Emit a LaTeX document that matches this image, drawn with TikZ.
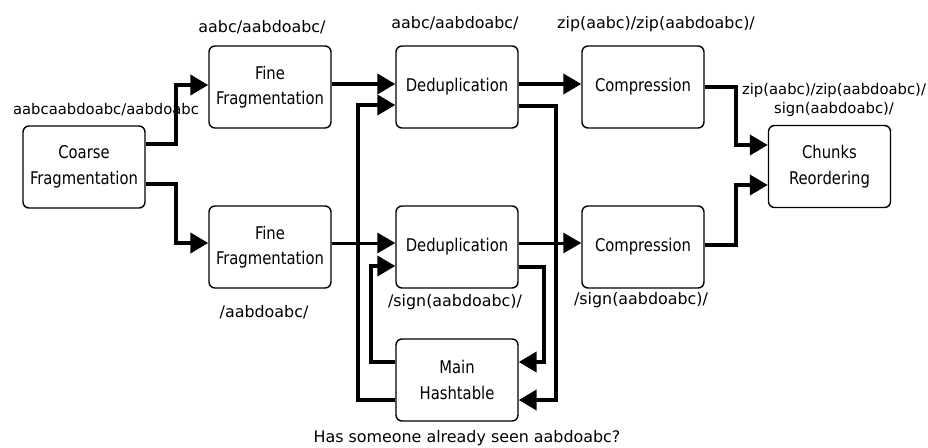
\documentclass[tikz,border=0pt]{standalone}
\usepackage{fontspec}
\setmainfont{DejaVu Sans}
\newfontfamily\condfont{DejaVu Sans Condensed}[FakeStretch=0.94]
\usetikzlibrary{arrows.meta}
\begin{document}
\begin{tikzpicture}[x=1pt,y=-1pt,
  stage/.style={draw, line width=1.4pt, rounded corners=6pt, minimum width=122pt,
    minimum height=82pt, inner sep=0pt, align=center,
    font=\condfont\fontsize{17.5}{25.5}\selectfont},
  flow/.style={line width=4pt, -{Triangle[length=18pt,width=20pt]}},
  thinflow/.style={line width=3pt, -{Triangle[length=18pt,width=20pt]}},
  tag/.style={inner sep=0pt, align=center, font=\fontsize{15.9}{19}\selectfont},
  smalltag/.style={inner sep=0pt, align=center, font=\fontsize{14.8}{19}\selectfont}]
\useasboundingbox (0,0) rectangle (928,447);

% processing stages
\node[stage] (coarse) at (84,167) {Coarse\\Fragmentation};
\node[stage] (fine1)  at (270,87)  {Fine\\Fragmentation};
\node[stage] (fine2)  at (270,247) {Fine\\Fragmentation};
\node[stage] (dd1)    at (457,87)  {Deduplication};
\node[stage] (dd2)    at (457,247) {Deduplication};
\node[stage] (ht)     at (457,380) {Main\\Hashtable};
\node[stage] (cmp1)   at (643,87)  {Compression};
\node[stage] (cmp2)   at (643,247) {Compression};
\node[stage] (chunks) at (829.5,166.5) {Chunks\\Reordering};

% data labels
\node[smalltag] (lcoarse) at (106,110) {aabcaabdoabc/aabdoabc};
\node[tag] (lfine1) at (262,27)  {aabc/aabdoabc/};
\node[tag] (ldd1)   at (455,23)  {aabc/aabdoabc/};
\node[tag] (lcmp1)  at (656,24)  {zip(aabc)/zip(aabdoabc)/};
\node[smalltag] (lchunks) at (834,100) {zip(aabc)/zip(aabdoabc)/\\sign(aabdoabc)/};
\node[tag] (lfine2) at (264,312) {/aabdoabc/};
\node[tag] (ldd2)   at (455,302) {/sign(aabdoabc)/};
\node[tag] (lcmp2)  at (641,300) {/sign(aabdoabc)/};
\node[tag] (lht)    at (467,438) {Has someone already seen aabdoabc?};

% coarse split
\draw[flow] ([yshift=23pt]coarse.east) -- ++(30,0) |- ([yshift=2pt]fine1.west);
\draw[flow] ([yshift=-17pt]coarse.east) -- ++(30,0) |- ([yshift=4pt]fine2.west);

% fine fragmentation to deduplication
\draw[flow] ([yshift=3pt]fine1.east) -- ([yshift=3pt]dd1.west);
\draw[thinflow] ([yshift=4pt]fine2.east) -- ([yshift=4pt]dd2.west);

% hashtable lookups
\draw[flow] ([yshift=-20pt]ht.west) -- ++(-37,0) |- ([yshift=-18pt]dd1.west);
\draw[flow] ([yshift=-19pt]dd1.east) -- ++(37,0) |- ([yshift=-20pt]ht.east);
\draw[flow] ([yshift=-20pt]dd2.east) -- ++(25.5,0) |- ([yshift=18pt]ht.east);
\draw[flow] ([yshift=18pt]ht.west) -- ++(-24,0) |- ([yshift=-19pt]dd2.west);

% deduplication to compression
\draw[flow] ([yshift=3pt]dd1.east) -- ([yshift=3pt]cmp1.west);
\draw[thinflow] ([yshift=4pt]dd2.east) -- ([yshift=4pt]cmp2.west);

% compression to reordering
\draw[flow] (cmp1.east) -- ++(31,0) |- ([yshift=21.5pt]chunks.west);
\draw[flow] ([yshift=2pt]cmp2.east) -- ++(31,0) |- ([yshift=-18.5pt]chunks.west);
\end{tikzpicture}
\end{document}
